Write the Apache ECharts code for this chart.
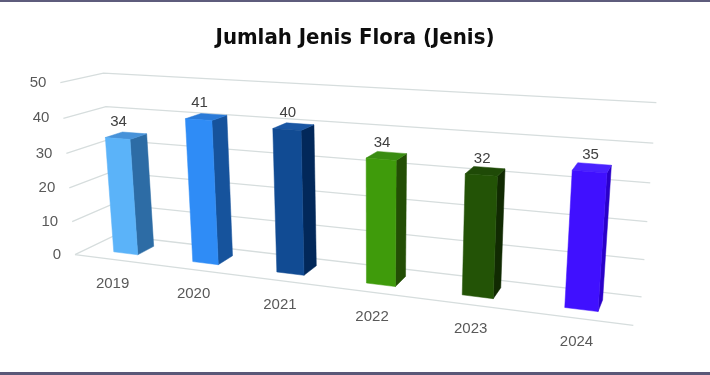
<!DOCTYPE html>
<html><head><meta charset="utf-8">
<script src="https://cdn.jsdelivr.net/npm/echarts@6/dist/echarts.min.js"></script>
<style>html,body{margin:0;padding:0;background:#fff}#c{width:710px;height:375px}</style>
</head><body><div id="c"></div>
<script>
// ---- data ----
const categories = ['2019', '2020', '2021', '2022', '2023', '2024'];
const values = [34, 41, 40, 34, 32, 35];
const yTicks = [0, 10, 20, 30, 40, 50];
const titleText = 'Jumlah Jenis Flora (Jenis)';

// ---- styles ----
const frontColors = ['#5bb3f9', '#2f8cf6', '#114b93', '#3f9b0b', '#235306', '#4010ff'];
const sideColors  = ['#2d6ca5', '#16539c', '#02285a', '#234e05', '#112a02', '#2a00c9'];
const topColors   = ['#4792d9', '#2a7ad8', '#1a56a3', '#3a8c12', '#1f4a07', '#4a22ff'];

// ---- 3D frame calibration (world X,Y,Z in [0,1] -> screen px) ----
const calib = [
  [0, 1, 0, 60.7, 82.7], [0, 0.8, 0, 63.3, 118.3], [0, 0.6, 0, 66.3, 153], [0, 0.4, 0, 69.3, 187.7],
  [0, 0.2, 0, 71.7, 221.7], [0, 0, 0, 75, 255],
  [0, 1, 1, 103.3, 73.3],
  [1, 1, 1, 656.7, 102.3], [1, 0.8, 1, 653, 143.3], [1, 0.6, 1, 650, 182.7], [1, 0.4, 1, 647.7, 221.7],
  [1, 0.2, 1, 644, 260], [1, 0, 1, 641.7, 296.7],
  [1, 0, 0, 633, 326],
  [1/12, 0, 0.3, 126, 253.3], [3/12, 0, 0.3, 205.5, 263], [5/12, 0, 0.3, 290.5, 273.7],
  [7/12, 0, 0.3, 381, 284], [9/12, 0, 0.3, 477.5, 296.7], [11/12, 0, 0.3, 581.7, 309.3]
];
const BAR_W = 0.31, Z_FRONT = 0.3, Z_BACK = 0.72;

function solveDLT(pts) {
  const S = 100, n = 11, A = [], b = [];
  for (const [X, Y, Z, x0, y0] of pts) {
    const x = x0 / S, y = y0 / S;
    A.push([X, Y, Z, 1, 0, 0, 0, 0, -x * X, -x * Y, -x * Z]); b.push(x);
    A.push([0, 0, 0, 0, X, Y, Z, 1, -y * X, -y * Y, -y * Z]); b.push(y);
  }
  const M = [...Array(n)].map(() => new Array(n + 1).fill(0));
  for (let r = 0; r < A.length; r++) for (let i = 0; i < n; i++) {
    for (let j = 0; j < n; j++) M[i][j] += A[r][i] * A[r][j];
    M[i][n] += A[r][i] * b[r];
  }
  for (let c = 0; c < n; c++) {
    let p = c;
    for (let r = c + 1; r < n; r++) if (Math.abs(M[r][c]) > Math.abs(M[p][c])) p = r;
    const t = M[c]; M[c] = M[p]; M[p] = t;
    for (let r = 0; r < n; r++) {
      if (r === c) continue;
      const f = M[r][c] / M[c][c];
      for (let k = c; k <= n; k++) M[r][k] -= f * M[c][k];
    }
  }
  return M.map((row, i) => row[n] / row[i]);
}
const P = solveDLT(calib);
function proj(X, Y, Z) {
  const w = P[8] * X + P[9] * Y + P[10] * Z + 1;
  return [100 * (P[0] * X + P[1] * Y + P[2] * Z + P[3]) / w, 100 * (P[4] * X + P[5] * Y + P[6] * Z + P[7]) / w];
}
function norm(params, api, cat, val) {
  const cs = params.coordSys;
  const c = api.coord([cat, val]);
  return [(c[0] - cs.x) / cs.width, (cs.y + cs.height - c[1]) / cs.height];
}

const chart = echarts.init(document.getElementById('c'), null, { renderer: 'canvas' });
const gridColor = '#d6dddd';
const labelColor = '#595959';
const font = '"Liberation Sans", Arial, sans-serif';
const titleFont = '"DejaVu Sans Condensed", "Liberation Sans", sans-serif';

chart.setOption({
  animation: false,
  backgroundColor: '#ffffff',
  title: {
    text: titleText, left: 'center', top: 22,
    textStyle: { fontSize: 22, fontWeight: 'bold', color: '#0d0d0d', fontFamily: titleFont }
  },
  grid: { left: 0, right: 0, top: 0, bottom: 0 },
  xAxis: { type: 'category', data: categories, show: false },
  yAxis: { type: 'value', min: 0, max: 50, interval: 10, show: false },
  graphic: [
    { type: 'rect', shape: { x: 0, y: 0, width: 710, height: 2 }, style: { fill: '#5e5c7c' } },
    { type: 'rect', shape: { x: 0, y: 372, width: 710, height: 3 }, style: { fill: '#5a5878' } }
  ],
  series: [
    { // walls / gridlines / y labels
      type: 'custom', z: 1, silent: true,
      data: yTicks.map(t => [0, t]),
      renderItem: function (params, api) {
        const t = api.value(1);
        const v = norm(params, api, 0, t)[1];
        const children = [];
        children.push({ type: 'polyline', shape: { points: [proj(0, v, 0), proj(0, v, 1), proj(1, v, 1)] },
          style: { stroke: gridColor, lineWidth: 1.3, fill: null } });
        if (t === 0) {
          children.push({ type: 'line', shape: (() => { const a = proj(0, 0, 0), b = proj(1, 0, 0); return { x1: a[0], y1: a[1], x2: b[0], y2: b[1] }; })(),
            style: { stroke: gridColor, lineWidth: 1.3 } });
        }
        const p = proj(0, v, 0);
        children.push({ type: 'text', x: p[0] - 14, y: p[1],
          style: { text: String(t), fill: labelColor, font: '15px ' + font, align: 'right', verticalAlign: 'middle' } });
        return { type: 'group', children };
      }
    },
    { // category labels
      type: 'custom', z: 2, silent: true,
      data: categories.map((c, i) => [i, 0]),
      renderItem: function (params, api) {
        const i = api.value(0);
        const u = norm(params, api, i, 0)[0];
        const p = proj(u, 0, 0);
        return { type: 'text', x: p[0] - 1, y: p[1] + 24,
          style: { text: categories[i], fill: labelColor, font: '15px ' + font, align: 'center', verticalAlign: 'middle' } };
      }
    },
    { // 3D bars
      type: 'custom', z: 3,
      data: values.map((v, i) => [i, v]),
      renderItem: function (params, api) {
        const i = api.value(0), val = api.value(1);
        const cs = params.coordSys;
        const [u, v] = norm(params, api, i, val);
        const sw = api.size([1, 0])[0] / cs.width;
        const x0 = u - BAR_W * sw / 2, x1 = u + BAR_W * sw / 2;
        const z0 = Z_FRONT, z1 = Z_BACK;
        const poly = (pts, fill) => ({ type: 'polygon', shape: { points: pts }, style: { fill, stroke: fill, lineWidth: 0.5 } });
        const front = [proj(x0, 0, z0), proj(x1, 0, z0), proj(x1, v, z0), proj(x0, v, z0)];
        const side = [proj(x1, 0, z0), proj(x1, 0, z1), proj(x1, v, z1), proj(x1, v, z0)];
        const top = [proj(x0, v, z0), proj(x1, v, z0), proj(x1, v, z1), proj(x0, v, z1)];
        const lp = proj(u, v, z0);
        return { type: 'group', children: [
          poly(side, sideColors[i]),
          poly(top, topColors[i]),
          poly(front, frontColors[i]),
          { type: 'text', x: lp[0] + 1, y: lp[1] - 9,
            style: { text: String(val), fill: '#404040', font: '15px ' + font, align: 'center', verticalAlign: 'bottom' } }
        ] };
      }
    }
  ]
});
</script>
</body></html>
